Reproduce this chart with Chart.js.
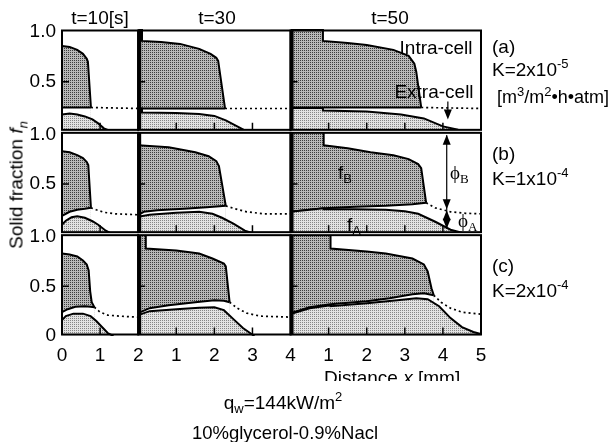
<!DOCTYPE html>
<html>
<head>
<meta charset="utf-8">
<script src="https://cdn.jsdelivr.net/npm/chart.js@4.4.0/dist/chart.umd.min.js"></script>
<style>
body { margin: 0; background: #fff; }
#wrap { position: relative; width: 616px; height: 442px; overflow: hidden; font-family: 'Liberation Sans', Arial, sans-serif; color: #000; }
canvas { position: absolute; left: 0; top: 0; }
.t { position: absolute; white-space: nowrap; font-size: 19px; line-height: 1; }
.c { transform: translate(-50%, -50%); }
.l { transform: translate(0, -50%); }
sup, sub { font-size: 13px; line-height: 0; }
.serif { font-family: 'Liberation Serif', 'DejaVu Serif', serif; }
</style>
</head>
<body>
<div id="wrap">
  <canvas id="myChart" width="616" height="442"></canvas>

  <div class="t c" style="left:100px; top:17px;">t=10[s]</div>
  <div class="t c" style="left:217px; top:17px;">t=30</div>
  <div class="t c" style="left:390px; top:17px;">t=50</div>

  <div class="t c" style="left:436px; top:47px;">Intra-cell</div>
  <div class="t c" style="left:434px; top:91px;">Extra-cell</div>

  <div class="t l" style="left:492px; top:46px;">(a)</div>
  <div class="t l" style="left:492px; top:69px;">K=2x10<sup>-5</sup></div>
  <div class="t l" style="left:497px; top:97px; font-size:18px;">[m<sup>3</sup>/m<sup>2</sup>•h•atm]</div>
  <div class="t l" style="left:492px; top:153px;">(b)</div>
  <div class="t l" style="left:492px; top:178px;">K=1x10<sup>-4</sup></div>
  <div class="t l" style="left:492px; top:265px;">(c)</div>
  <div class="t l" style="left:492px; top:290px;">K=2x10<sup>-4</sup></div>

  <div class="t l" style="left:338px; top:172px;">f<sub>B</sub></div>
  <div class="t l" style="left:347px; top:224px;">f<sub>A</sub></div>
  <div class="t l serif" style="left:450px; top:172px;">ϕ<sub>B</sub></div>
  <div class="t l serif" style="left:458px; top:220px;">ϕ<sub>A</sub></div>

  <div class="t" style="left:16px; top:185px; transform:translate(-50%,-50%) rotate(-90deg);">Solid fraction <i>f<sub>n</sub></i></div>

  <div style="position:absolute; left:300px; top:366px; width:180px; height:15px; overflow:hidden;">
    <div class="t" style="left:24px; top:2px;">Distance <i>x</i> [mm]</div>
  </div>
  <div class="t c" style="left:283px; top:402px;">q<sub>w</sub>=144kW/m<sup>2</sup></div>
  <div class="t c" style="left:285px; top:433px; font-size:18.5px;">10%glycerol-0.9%Nacl</div>
</div>

<script>
// x range of each time column [mm]
const colMax = [2, 4, 5];

// (a) K=2x10^-5 : upper = intra-cell top, lower = intra-cell bottom, fa = extra-cell top
const a10Upper = [[0, 0.86], [0.2, 0.85], [0.4, 0.82], [0.55, 0.78], [0.65, 0.73], [0.68, 0.70], [0.76, 0.24]];
const a10Lower = [[0, 0.24], [0.76, 0.24]];
const a10Dotted = [[0.76, 0.24], [2, 0.23]];
const a10FA = [[0, 0.17], [0.2, 0.18], [0.4, 0.17], [0.6, 0.15], [0.8, 0.12], [0.95, 0.08], [1.1, 0.03], [1.3, 0]];

const a30Upper = [[0, 1.03], [0.1, 1.03], [0.1, 0.91], [0.6, 0.9], [1.1, 0.88], [1.6, 0.83], [1.9, 0.78], [2.05, 0.74], [2.1, 0.71], [2.28, 0.23]];
const a30Lower = [[0, 0.23], [2.28, 0.23]];
const a30Dotted = [[2.28, 0.23], [4, 0.23]];
const a30FA = [[0, 0.23], [0.1, 0.23], [0.1, 0.19], [1, 0.185], [1.6, 0.175], [2.0, 0.155], [2.3, 0.11], [2.6, 0.05], [2.85, 0]];

const a50Upper = [[0, 1.03], [0.85, 1.03], [0.85, 0.91], [1.5, 0.89], [2.0, 0.87], [2.7, 0.82], [3.1, 0.76], [3.25, 0.68], [3.3, 0.6], [3.43, 0.24]];
const a50Lower = [[0, 0.24], [3.43, 0.24]];
const a50Dotted = [[3.43, 0.24], [5, 0.23]];
const a50FA = [[0, 0.235], [0.85, 0.235], [0.85, 0.21], [2.0, 0.2], [2.9, 0.17], [3.5, 0.13], [4.0, 0.05], [4.4, 0.015], [4.8, 0]];

// (b) K=1x10^-4
const b10Upper = [[0, 0.83], [0.2, 0.82], [0.4, 0.79], [0.55, 0.76], [0.65, 0.72], [0.69, 0.69], [0.76, 0.26]];
const b10Lower = [[0, 0.18], [0.2, 0.22], [0.4, 0.24], [0.6, 0.25], [0.76, 0.26]];
const b10Dotted = [[0.76, 0.26], [0.9, 0.24], [1.1, 0.215], [1.4, 0.2], [2, 0.19]];
const b10FA = [[0, 0.09], [0.1, 0.13], [0.25, 0.165], [0.4, 0.175], [0.6, 0.16], [0.8, 0.125], [0.95, 0.09], [1.15, 0.03], [1.3, 0]];

const b30Upper = [[0, 0.89], [0.8, 0.87], [1.5, 0.82], [1.85, 0.78], [2.05, 0.73], [2.12, 0.68], [2.3, 0.28]];
const b30Lower = [[0, 0.19], [0.15, 0.22], [0.5, 0.235], [1.2, 0.25], [1.8, 0.265], [2.3, 0.28]];
const b30Dotted = [[2.3, 0.28], [2.55, 0.25], [2.85, 0.22], [3.3, 0.2], [4, 0.2]];
const b30FA = [[0, 0.17], [0.3, 0.19], [1.0, 0.21], [1.6, 0.22], [1.95, 0.2], [2.2, 0.16], [2.5, 0.1], [2.8, 0.03], [3.05, 0]];

const b50Upper = [[0, 1.03], [0.87, 1.03], [0.87, 0.89], [1.5, 0.86], [2.1, 0.82], [2.7, 0.79], [3.1, 0.75], [3.35, 0.7], [3.43, 0.66], [3.56, 0.31]];
const b50Lower = [[0, 0.22], [0.5, 0.24], [0.87, 0.255], [1.7, 0.27], [2.5, 0.28], [3.2, 0.295], [3.56, 0.31]];
const b50Dotted = [[3.56, 0.31], [3.8, 0.26], [4.2, 0.22], [4.6, 0.205], [5, 0.2]];
const b50FA = [[0, 0.22], [0.5, 0.24], [0.87, 0.255], [0.87, 0.245], [1.7, 0.245], [2.5, 0.24], [3.0, 0.225], [3.35, 0.2], [3.8, 0.12], [4.2, 0.04], [4.5, 0.01], [4.8, 0]];

// (c) K=2x10^-4
const c10Upper = [[0, 0.83], [0.2, 0.82], [0.4, 0.8], [0.55, 0.76], [0.65, 0.72], [0.7, 0.66], [0.74, 0.45], [0.78, 0.34], [0.85, 0.29]];
const c10Lower = [[0, 0.24], [0.15, 0.27], [0.35, 0.295], [0.6, 0.3], [0.75, 0.295], [0.85, 0.29]];
const c10Dotted = [[0.85, 0.29], [1.0, 0.24], [1.2, 0.21], [1.5, 0.2], [2, 0.19]];
const c10FA = [[0, 0.16], [0.1, 0.2], [0.3, 0.225], [0.55, 0.225], [0.75, 0.2], [0.9, 0.15], [1.05, 0.09], [1.2, 0.03], [1.35, 0]];

const c30Upper = [[0, 1.03], [0.2, 1.03], [0.2, 0.88], [1.0, 0.86], [1.6, 0.83], [1.95, 0.78], [2.25, 0.73], [2.3, 0.7], [2.4, 0.34]];
const c30Lower = [[0, 0.23], [0.3, 0.28], [0.8, 0.31], [1.5, 0.34], [2.0, 0.36], [2.25, 0.355], [2.4, 0.34]];
const c30Dotted = [[2.4, 0.34], [2.6, 0.28], [2.85, 0.23], [3.2, 0.2], [4, 0.19]];
const c30FA = [[0, 0.21], [0.3, 0.25], [1.0, 0.27], [1.6, 0.285], [2.0, 0.29], [2.25, 0.26], [2.5, 0.17], [2.75, 0.08], [3.05, 0]];

const c50Upper = [[0, 1.03], [1.05, 1.03], [1.05, 0.88], [2.0, 0.85], [2.5, 0.83], [3.2, 0.78], [3.5, 0.72], [3.6, 0.65], [3.7, 0.48], [3.76, 0.41]];
const c50Lower = [[0, 0.23], [0.5, 0.29], [1.05, 0.32], [2.0, 0.35], [2.6, 0.38], [3.2, 0.42], [3.5, 0.43], [3.76, 0.41]];
const c50Dotted = [[3.76, 0.41], [3.95, 0.34], [4.2, 0.28], [4.5, 0.24], [5, 0.22]];
const c50FA = [[0, 0.22], [0.5, 0.28], [1.05, 0.31], [1.05, 0.3], [2.0, 0.33], [2.8, 0.36], [3.3, 0.38], [3.6, 0.37], [3.9, 0.3], [4.2, 0.18], [4.5, 0.09], [4.8, 0.04], [5, 0.02]];

const FONT = "'Liberation Sans', Arial, sans-serif";

// stipple patterns like the printed figure
function makePattern(bg, dot) {
    let c = document.createElement('canvas');
    c.width = 4;
    c.height = 4;
    let g = c.getContext('2d');
    g.fillStyle = bg;
    g.fillRect(0, 0, 4, 4);
    g.fillStyle = dot;
    g.fillRect(0, 0, 1, 1);
    g.fillRect(2, 2, 1, 1);
    g.fillRect(2, 0, 1, 1);
    g.fillRect(0, 2, 1, 1);
    return document.getElementById('myChart').getContext('2d').createPattern(c, 'repeat');
}
let darkFill = makePattern('#b8b8b8', '#3c3c3c');
let lightFill = makePattern('#e2e2e2', '#858585');

let panels = [
    {x: 'x1', y: 'ya', upper: a10Upper, lower: a10Lower, dotted: a10Dotted, fa: a10FA},
    {x: 'x2', y: 'ya', upper: a30Upper, lower: a30Lower, dotted: a30Dotted, fa: a30FA},
    {x: 'x3', y: 'ya', upper: a50Upper, lower: a50Lower, dotted: a50Dotted, fa: a50FA},
    {x: 'x1', y: 'yb', upper: b10Upper, lower: b10Lower, dotted: b10Dotted, fa: b10FA},
    {x: 'x2', y: 'yb', upper: b30Upper, lower: b30Lower, dotted: b30Dotted, fa: b30FA},
    {x: 'x3', y: 'yb', upper: b50Upper, lower: b50Lower, dotted: b50Dotted, fa: b50FA},
    {x: 'x1', y: 'yc', upper: c10Upper, lower: c10Lower, dotted: c10Dotted, fa: c10FA},
    {x: 'x2', y: 'yc', upper: c30Upper, lower: c30Lower, dotted: c30Dotted, fa: c30FA},
    {x: 'x3', y: 'yc', upper: c50Upper, lower: c50Lower, dotted: c50Dotted, fa: c50FA}
];

function pts(arr) {
    return arr.map(p => ({x: p[0], y: p[1]}));
}

// datasets drawn from last to first, so upper region goes down first,
// the white gap covers its lower part, then the extra-cell region on top
let datasets = [];
panels.forEach(p => {
    let base = {xAxisID: p.x, yAxisID: p.y, pointRadius: 0, borderColor: '#000', borderWidth: 2, tension: 0};
    datasets.push({...base, data: pts(p.fa), fill: 'origin', backgroundColor: lightFill});
    datasets.push({...base, data: pts(p.dotted), fill: false, borderDash: [2, 3], borderWidth: 1.7});
    datasets.push({...base, data: pts(p.lower), fill: 'origin', backgroundColor: '#fff'});
    datasets.push({...base, data: pts(p.upper), fill: 'origin', backgroundColor: darkFill});
});

function yScale(showZero) {
    return {
        type: 'linear', position: 'left', stack: 'rows', stackWeight: 1, min: 0, max: 1.03,
        grid: {display: false, drawTicks: false}, border: {display: false},
        ticks: {
            stepSize: 0.5, includeBounds: false, autoSkip: false, padding: 6, color: '#000',
            font: {size: 19, family: FONT},
            callback: v => v === 1 ? '1.0' : v === 0.5 ? '0.5' : (v === 0 && showZero ? '0' : '')
        },
        afterFit: s => { s.width = 44; }
    };
}

function xScale(max, first) {
    return {
        type: 'linear', position: 'bottom', stack: 'cols', stackWeight: max, min: 0, max: max,
        grid: {display: false, drawTicks: false}, border: {display: false},
        ticks: {
            stepSize: 1, autoSkip: false, maxRotation: 0, padding: 8, color: '#000',
            font: {size: 19, family: FONT},
            callback: v => (v === 0 && !first) ? '' : String(v)
        },
        afterFit: s => { s.height = 26; }
    };
}

// frames, thick column separators and inward ticks
const panelFrame = {
    id: 'panelFrame',
    afterDatasetsDraw(chart) {
        let ctx = chart.ctx;
        ctx.save();
        ctx.fillStyle = '#fff';
        ['ya', 'yb'].forEach(yid => {
            let ys = chart.scales[yid];
            ctx.fillRect(chart.chartArea.left - 2, ys.bottom - 1.5, chart.chartArea.right - chart.chartArea.left + 4, 3);
        });
        ctx.strokeStyle = '#000';
        ctx.fillStyle = '#000';
        ['ya', 'yb', 'yc'].forEach(yid => {
            let ys = chart.scales[yid];
            ['x1', 'x2', 'x3'].forEach((xid, c) => {
                let xs = chart.scales[xid];
                let top = ys.top + 1.5;
                let bottom = ys.bottom - 1.5;
                ctx.lineWidth = 2;
                ctx.strokeRect(xs.left, top, xs.right - xs.left, bottom - top);
                if (c > 0) {
                    ctx.fillRect(xs.left - 0.5, top, 3.5, bottom - top);
                }
                ctx.lineWidth = 1.5;
                ctx.beginPath();
                for (let v = 1; v < xs.max; v++) {
                    let px = xs.getPixelForValue(v);
                    ctx.moveTo(px, bottom);
                    ctx.lineTo(px, bottom - 7);
                }
                let py = ys.getPixelForValue(0.5);
                ctx.moveTo(xs.left, py);
                ctx.lineTo(xs.left + 7, py);
                ctx.stroke();
            });
        });
        ctx.restore();
    }
};

// phi arrows and the extra-cell pointer
function head(ctx, x, y, dir) {
    ctx.beginPath();
    ctx.moveTo(x, y);
    ctx.lineTo(x - 4, y - dir * 10);
    ctx.lineTo(x + 4, y - dir * 10);
    ctx.closePath();
    ctx.fill();
}
const arrows = {
    id: 'arrows',
    afterDatasetsDraw(chart) {
        let ctx = chart.ctx;
        let xs = chart.scales.x3;
        let ya = chart.scales.ya;
        let yb = chart.scales.yb;
        ctx.save();
        ctx.strokeStyle = '#000';
        ctx.fillStyle = '#000';
        ctx.lineWidth = 1.2;
        // Extra-cell pointer
        let px = xs.getPixelForValue(4.13);
        ctx.beginPath();
        ctx.moveTo(px, ya.getPixelForValue(0.3));
        ctx.lineTo(px, ya.getPixelForValue(0.18));
        ctx.stroke();
        head(ctx, px, ya.getPixelForValue(0.12), 1);
        // phi_B and phi_A
        px = xs.getPixelForValue(4.1);
        ctx.beginPath();
        ctx.moveTo(px, yb.getPixelForValue(0.99));
        ctx.lineTo(px, yb.getPixelForValue(0.05));
        ctx.stroke();
        head(ctx, px, yb.getPixelForValue(0.995), -1);
        head(ctx, px, yb.getPixelForValue(0.245), 1);
        head(ctx, px, yb.getPixelForValue(0.235), -1);
        head(ctx, px, yb.getPixelForValue(0.05), 1);
        ctx.restore();
    }
};

let chart = new Chart(document.getElementById('myChart'), {
    type: 'line',
    data: {datasets: datasets},
    options: {
        responsive: false,
        animation: false,
        layout: {padding: {left: 18, right: 135, top: 29, bottom: 80}},
        plugins: {legend: {display: false}, tooltip: {enabled: false}},
        scales: {
            x1: xScale(colMax[0], true),
            x2: xScale(colMax[1], false),
            x3: xScale(colMax[2], false),
            yc: yScale(true),
            yb: yScale(false),
            ya: yScale(false)
        }
    },
    plugins: [panelFrame, arrows]
});
</script>
</body>
</html>
